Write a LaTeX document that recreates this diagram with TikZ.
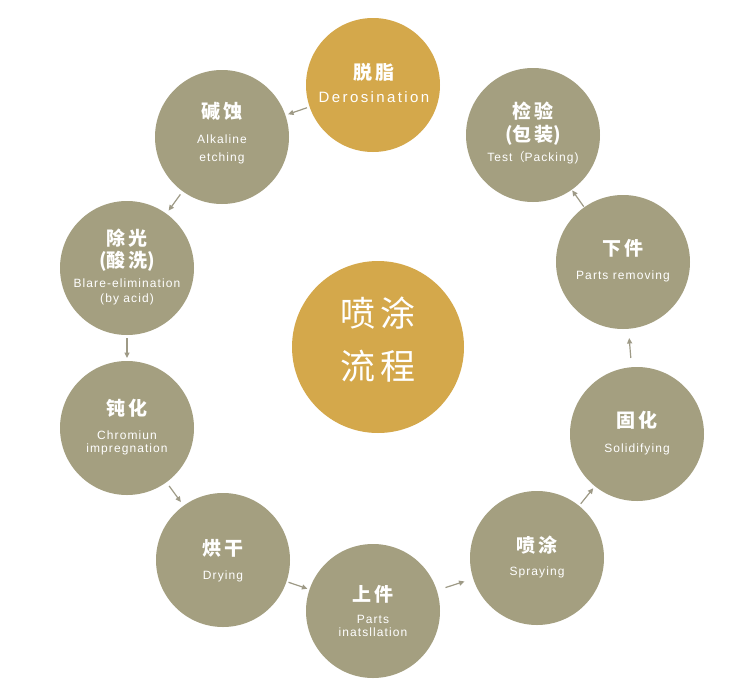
\documentclass[tikz,border=0pt]{standalone}
\usepackage{fontspec}
\setmainfont{Liberation Sans}
\newfontfamily\enfont{Liberation Sans}[LetterSpace=9]
\newfontfamily\enwide{Liberation Sans}[LetterSpace=16]
\newfontfamily\cjkb{Noto Sans CJK SC}[LetterSpace=12]
\newfontfamily\cjkbig{Noto Sans CJK SC}[LetterSpace=15]
\newfontfamily\cjkplain{Noto Sans CJK SC}
\newcommand\lpar{{\cjkplain\bfseries(}}
\newcommand\rpar{{\cjkplain\bfseries)}}
\usetikzlibrary{arrows.meta,calc}
\definecolor{stepgray}{HTML}{A49F80}
\definecolor{stepgold}{HTML}{D4A84B}
\definecolor{arrowgray}{HTML}{9E9A86}
\tikzset{
  stepcircle/.style={circle, fill=stepgray, minimum size=134pt, inner sep=0pt},
  goldcircle/.style={circle, fill=stepgold, minimum size=134pt, inner sep=0pt},
  bigcircle/.style={circle, fill=stepgold, minimum size=172pt, inner sep=0pt},
  cn/.style={text=white, inner sep=0pt, font=\cjkb\bfseries\fontsize{19}{22}\selectfont, text height=0.8em, text depth=0.1em},
  cnbig/.style={text=white, inner sep=0pt, font=\cjkbig\fontsize{35}{40}\selectfont, text height=0.8em, text depth=0.1em},
  en/.style={text=white, inner sep=0pt, font=\enfont\fontsize{12}{14}\selectfont, text height=0.72em, text depth=0em},
  enbig/.style={text=white, inner sep=0pt, font=\enwide\fontsize{15}{18}\selectfont, text height=0.72em, text depth=0em},
  arr/.style={draw=arrowgray, line width=1.2pt, -{Triangle[length=5.5pt,width=5pt]}},
}
\begin{document}
\begin{tikzpicture}[x=1pt,y=-1pt]
\useasboundingbox (0,0) rectangle (748,686);
\fill[white] (0,0) rectangle (748,686);
% circles
\node[goldcircle] (c1) at (373,85) {};
\node[stepcircle] (c2) at (222,137) {};
\node[stepcircle] (c3) at (127,268) {};
\node[stepcircle] (c4) at (127,428) {};
\node[stepcircle] (c5) at (223,560) {};
\node[stepcircle] (c6) at (373,611) {};
\node[stepcircle] (c7) at (537,558) {};
\node[stepcircle] (c8) at (637,434) {};
\node[stepcircle] (c9) at (623,262) {};
\node[stepcircle] (c10) at (533,135) {};
\node[bigcircle] (c0) at (378,347) {};
% texts
\node[cn] (t1a) at (374,76) {脱脂};
\node[enbig] (t1b) at (374,99) {Derosination};
\node[cn] (t2a) at (222,115) {碱蚀};
\node[en] (t2b) at (222,140) {Alkaline};
\node[en] (t2c) at (222,158) {etching};
\node[cn] (t3a) at (127,242) {除光};
\node[cn] (t3b) at (127,264) {\lpar 酸洗\rpar};
\node[en] (t3c) at (127,284) {Blare-elimination};
\node[en] (t3d) at (127,299) {(by acid)};
\node[cn] (t4a) at (127,412) {钝化};
\node[en] (t4b) at (127,436) {Chromiun};
\node[en] (t4c) at (127,449) {impregnation};
\node[cn] (t5a) at (223,552) {烘干};
\node[en] (t5b) at (223,576) {Drying};
\node[cn] (t6a) at (373,598) {上件};
\node[en] (t6b) at (373,620) {Parts};
\node[en] (t6c) at (373,633) {inatsllation};
\node[cn] (t7a) at (537,549) {喷涂};
\node[en] (t7b) at (537,572) {Spraying};
\node[cn] (t8a) at (637,424) {固化};
\node[en] (t8b) at (637,449) {Solidifying};
\node[cn] (t9a) at (623,252) {下件};
\node[en] (t9b) at (623,276) {Parts removing};
\node[cn] (t10a) at (533,115) {检验};
\node[cn] (t10b) at (533,138) {\lpar 包装\rpar};
\node[en] (t10c) at (533,158) {Test{\cjkplain （}Packing)};
\node[cnbig] (t0a) at (378,323) {喷涂};
\node[cnbig] (t0b) at (378,376) {流程};
% arrows
\draw[arr] ($(c1)!0.5!(c2)!10pt!(c1)$) -- ($(c1)!0.5!(c2)!10pt!(c2)$);
\draw[arr] ($(c2)!0.5!(c3)!10pt!(c2)$) -- ($(c2)!0.5!(c3)!10pt!(c3)$);
\draw[arr] ($(c3)!0.5!(c4)!10pt!(c3)$) -- ($(c3)!0.5!(c4)!10pt!(c4)$);
\draw[arr] ($(c4)!0.5!(c5)!10pt!(c4)$) -- ($(c4)!0.5!(c5)!10pt!(c5)$);
\draw[arr] ($(c5)!0.5!(c6)!10pt!(c5)$) -- ($(c5)!0.5!(c6)!10pt!(c6)$);
\draw[arr] ($(c6)!0.5!(c7)!10pt!(c6)$) -- ($(c6)!0.5!(c7)!10pt!(c7)$);
\draw[arr] ($(c7)!0.5!(c8)!10pt!(c7)$) -- ($(c7)!0.5!(c8)!10pt!(c8)$);
\draw[arr] ($(c8)!0.5!(c9)!10pt!(c8)$) -- ($(c8)!0.5!(c9)!10pt!(c9)$);
\draw[arr] ($(c9)!0.5!(c10)!10pt!(c9)$) -- ($(c9)!0.5!(c10)!10pt!(c10)$);
\end{tikzpicture}
\end{document}
